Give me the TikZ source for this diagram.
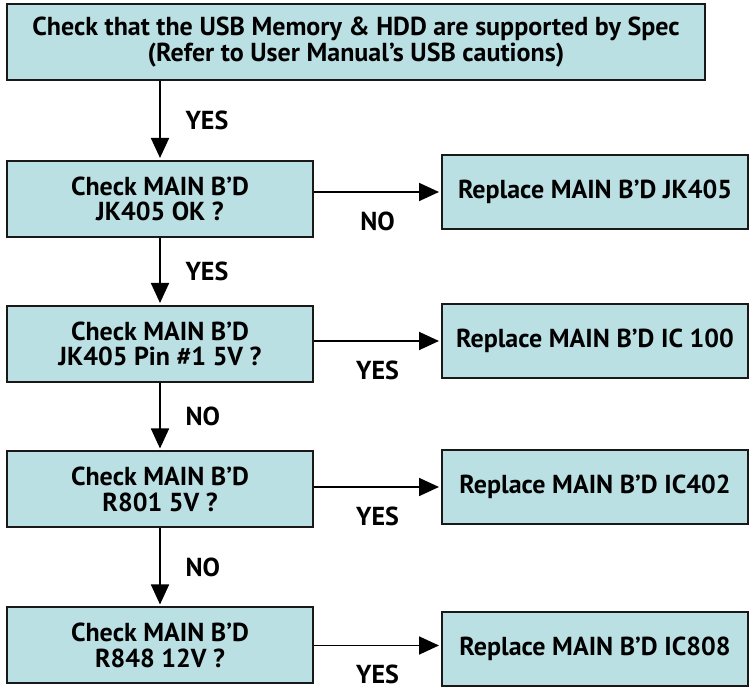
\documentclass[tikz,border=0pt]{standalone}
\usepackage{fontspec}
\setmainfont{PT Sans}
\usepackage{xcolor}
\usepackage{tikz}
\usetikzlibrary{positioning, arrows.meta}

\definecolor{boxfill}{RGB}{186,224,228}

\begin{document}
\begin{tikzpicture}[x=0.5pt, y=-0.5pt, >={Triangle[length=10pt, width=9pt]},
  chkbox/.style={draw=black!90, line width=1pt, fill=boxfill, minimum width=153pt, minimum height=38pt, align=center, inner sep=0pt, font=\bfseries\fontsize{13}{12.8}\selectfont},
  repbox/.style={chkbox, minimum height=37pt},
  lbl/.style={font=\bfseries\fontsize{13}{13}\selectfont},
  flow/.style={->, line width=0.9pt, shorten >=1pt}]

  \useasboundingbox (0,0) rectangle (751,688);

  \node[chkbox, minimum width=349pt] (spec) at (356,42) {Check that the USB Memory \& HDD are supported by Spec\\(Refer to User Manual’s USB cautions)};

  \node[chkbox] (chk-jk) at (160,199) {Check MAIN B’D\\JK405 OK ?};
  \node[repbox] (rep-jk) at (595,192) {Replace MAIN B’D JK405};

  \node[chkbox] (chk-pin) at (160,344) {Check MAIN B’D\\JK405 Pin \#1 5V ?};
  \node[repbox] (rep-ic100) at (595,341) {Replace MAIN B’D IC 100};

  \node[chkbox] (chk-r801) at (160,489.5) {Check MAIN B’D\\R801 5V ?};
  \node[repbox] (rep-ic402) at (595,487) {Replace MAIN B’D IC402};

  \node[chkbox] (chk-r848) at (160,645.5) {Check MAIN B’D\\R848 12V ?};
  \node[repbox] (rep-ic808) at (595,649) {Replace MAIN B’D IC808};

  \draw[flow] (spec.south -| chk-jk) -- (chk-jk) node[midway, right=9pt, lbl]{YES};
  \draw[flow] (chk-jk) -- (chk-pin) node[midway, right=9pt, lbl]{YES};
  \draw[flow] (chk-pin) -- (chk-r801) node[midway, right=9pt, lbl]{NO};
  \draw[flow] (chk-r801) -- (chk-r848) node[midway, right=9pt, lbl]{NO};

  \draw[flow] (chk-jk.east |- rep-jk) -- (rep-jk) node[midway, below=6pt, lbl]{NO};
  \draw[flow] (chk-pin.east |- rep-ic100) -- (rep-ic100) node[midway, below=6pt, lbl]{YES};
  \draw[flow] (chk-r801.east |- rep-ic402) -- (rep-ic402) node[midway, below=6pt, lbl]{YES};
  \draw[flow] (chk-r848.east) -- (chk-r848 -| rep-ic808.west) node[midway, below=6pt, lbl]{YES};

\end{tikzpicture}
\end{document}
